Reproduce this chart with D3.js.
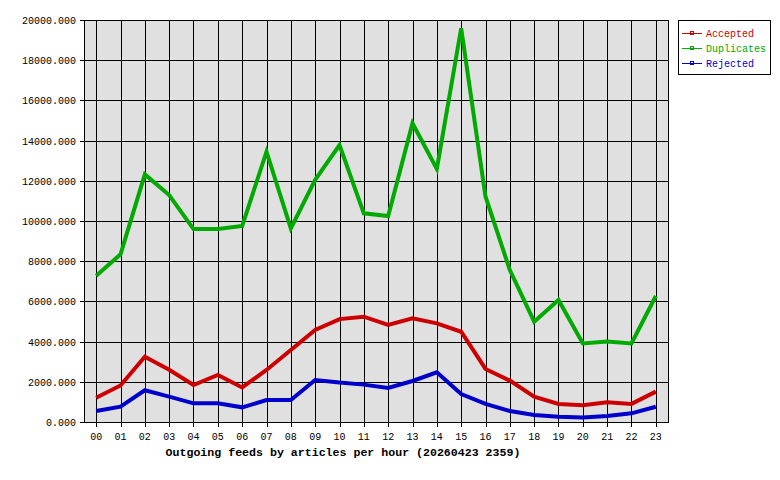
<!DOCTYPE html>
<html><head><meta charset="utf-8">
<script src="https://cdn.jsdelivr.net/npm/d3@7"></script>
<style>
body{margin:0;background:#fff;}
text{font-family:"Liberation Mono","DejaVu Sans Mono",monospace;}
</style></head>
<body>
<svg id="c" width="780" height="480"></svg>
<script>
const hours = ["00","01","02","03","04","05","06","07","08","09","10","11","12","13","14","15","16","17","18","19","20","21","22","23"];
const accepted = [1210,1820,3250,2600,1840,2340,1720,2590,3580,4580,5120,5240,4830,5160,4910,4490,2640,2060,1260,900,830,980,900,1510];
const duplicates = [7280,8340,12320,11290,9600,9600,9750,13450,9630,12050,13780,10380,10250,14860,12590,19590,11220,7560,4990,6070,3910,4010,3910,6270];
const rejected = [550,760,1580,1260,930,930,730,1090,1090,2090,1960,1860,1690,2040,2470,1390,900,550,350,260,230,300,430,760];
const yTicks = [0,2000,4000,6000,8000,10000,12000,14000,16000,18000,20000];
const seriesNames = ["Accepted","Duplicates","Rejected"];
const seriesColors = ["#cc0000","#00aa00","#0000cc"];
const title = "Outgoing feeds by articles per hour (20260423 2359)";

const svg = d3.select("#c");
const L=84, R=668, T=20, B=422;
const x = d3.scaleBand().domain(hours).range([L,R]).padding(0);
const xc = h => x(h)+x.bandwidth()/2;
const y = d3.scaleLinear().domain([0,20000]).range([B,T]);

svg.append("rect").attr("x",L).attr("y",T).attr("width",R-L).attr("height",B-T).attr("fill","#e0e0e0");

// grid
const g = svg.append("g").attr("shape-rendering","crispEdges");
g.selectAll("line.h").data(yTicks).join("line")
  .attr("x1",L-4).attr("x2",R).attr("y1",d=>Math.round(y(d))+0.5).attr("y2",d=>Math.round(y(d))+0.5)
  .attr("stroke","#000");
g.selectAll("line.v").data(hours).join("line")
  .attr("x1",d=>Math.round(xc(d))+0.5).attr("x2",d=>Math.round(xc(d))+0.5).attr("y1",T).attr("y2",B+5)
  .attr("stroke","#000");
g.append("rect").attr("x",L+0.5).attr("y",T+0.5).attr("width",R-L).attr("height",B-T)
  .attr("fill","none").attr("stroke","#000");

// y labels
svg.selectAll("text.yl").data(yTicks).join("text")
  .attr("x",76).attr("y",d=>y(d)+4).attr("text-anchor","end")
  .attr("font-size","10px").attr("fill","#000").text(d=>d3.format(".3f")(d));
// x labels
svg.selectAll("text.xl").data(hours).join("text")
  .attr("x",d=>xc(d)).attr("y",440).attr("text-anchor","middle")
  .attr("font-size","10px").attr("fill","#000").text(d=>d);

svg.append("text").attr("x",343).attr("y",456).attr("text-anchor","middle")
  .attr("font-size","11.6px").attr("font-weight","bold").attr("fill","#000").text(title);

// lines
const data = [accepted,duplicates,rejected];
const line = d3.line().x((d,i)=>xc(hours[i])).y(d=>y(d));
[1,0,2].forEach(k=>{
  svg.append("path").attr("d",line(data[k])).attr("fill","none")
    .attr("stroke",seriesColors[k]).attr("stroke-width",4).attr("stroke-linejoin","miter");
});

// legend
svg.append("rect").attr("x",678.5).attr("y",20.5).attr("width",92).attr("height",54)
  .attr("fill","#fff").attr("stroke","#000").attr("shape-rendering","crispEdges");
seriesNames.forEach((n,i)=>{
  const yy = 33 + i*15;
  svg.append("line").attr("x1",682).attr("x2",702).attr("y1",yy+0.5).attr("y2",yy+0.5)
    .attr("stroke",seriesColors[i]).attr("shape-rendering","crispEdges");
  svg.append("rect").attr("x",690.5).attr("y",yy-1.5).attr("width",3).attr("height",3)
    .attr("fill","none").attr("stroke",seriesColors[i]).attr("shape-rendering","crispEdges");
  svg.append("text").attr("x",706).attr("y",yy+4).attr("font-size","10px")
    .attr("fill",seriesColors[i]).text(n);
});
</script>
</body></html>
